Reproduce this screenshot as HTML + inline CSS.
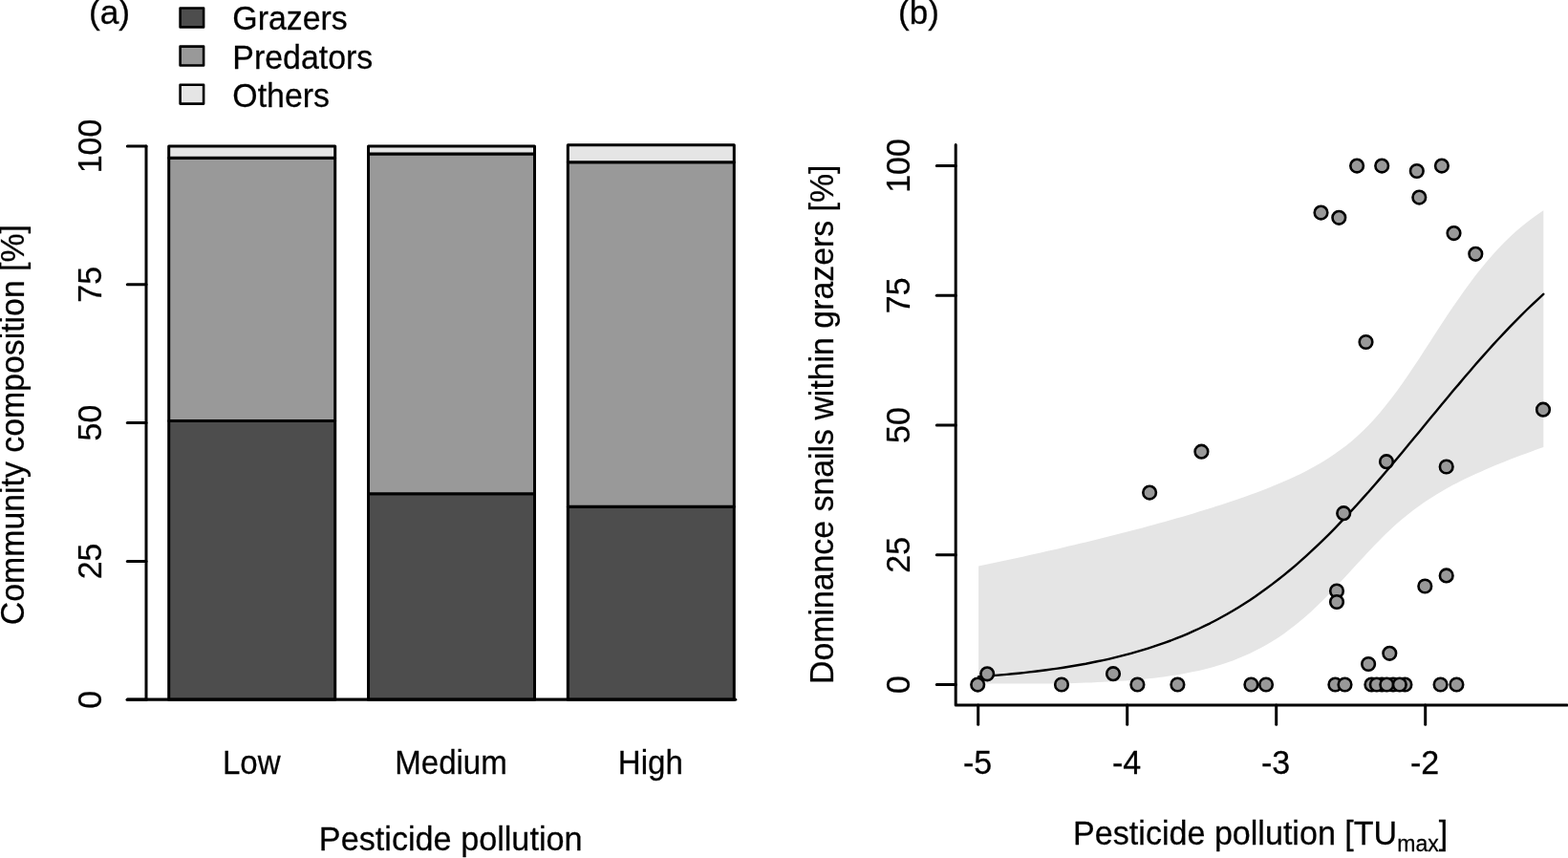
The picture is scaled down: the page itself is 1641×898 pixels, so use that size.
<!DOCTYPE html>
<html lang="en">
<head>
<meta charset="utf-8">
<title>Community composition and snail dominance vs pesticide pollution</title>
<style>
html, body { margin: 0; padding: 0; background: #ffffff; }
body { width: 1641px; height: 898px; overflow: hidden; }
svg { display: block; }
.t { font-family: "Liberation Sans", Arial, Helvetica, sans-serif; font-size: 34.0px; fill: #000; stroke: #000; stroke-width: 0.25px; }
</style>
</head>
<body>
<svg width="1641" height="898" viewBox="0 0 1641 898">
<rect x="0" y="0" width="1641" height="898" fill="#ffffff"/>
<g id="panel-a">
<rect x="176.70" y="440.57" width="174.00" height="291.63" fill="#4d4d4d" stroke="#000" stroke-width="3.0" stroke-linejoin="round"/>
<rect x="176.70" y="165.16" width="174.00" height="275.41" fill="#999999" stroke="#000" stroke-width="3.0" stroke-linejoin="round"/>
<rect x="176.70" y="153.00" width="174.00" height="12.16" fill="#e5e5e5" stroke="#000" stroke-width="3.0" stroke-linejoin="round"/>
<rect x="385.50" y="516.74" width="174.00" height="215.46" fill="#4d4d4d" stroke="#000" stroke-width="3.0" stroke-linejoin="round"/>
<rect x="385.50" y="161.11" width="174.00" height="355.63" fill="#999999" stroke="#000" stroke-width="3.0" stroke-linejoin="round"/>
<rect x="385.50" y="153.00" width="174.00" height="8.11" fill="#e5e5e5" stroke="#000" stroke-width="3.0" stroke-linejoin="round"/>
<rect x="594.30" y="530.18" width="174.00" height="202.02" fill="#4d4d4d" stroke="#000" stroke-width="3.0" stroke-linejoin="round"/>
<rect x="594.30" y="169.80" width="174.00" height="360.38" fill="#999999" stroke="#000" stroke-width="3.0" stroke-linejoin="round"/>
<rect x="594.30" y="151.84" width="174.00" height="17.96" fill="#e5e5e5" stroke="#000" stroke-width="3.0" stroke-linejoin="round"/>
<line x1="133.3" y1="732.2" x2="769.60" y2="732.2" stroke="#000" stroke-width="3.3" stroke-linecap="round"/>
<line x1="153.0" y1="153.0" x2="153.0" y2="732.2" stroke="#000" stroke-width="3.0" stroke-linecap="round"/>
<line x1="133.3" y1="732.20" x2="153.0" y2="732.20" stroke="#000" stroke-width="3.0" stroke-linecap="round"/>
<text id="a-y0" class="t" text-anchor="middle" transform="translate(105.80,732.20) rotate(-90) scale(1.0000,1.0200)">0</text>
<line x1="133.3" y1="587.40" x2="153.0" y2="587.40" stroke="#000" stroke-width="3.0" stroke-linecap="round"/>
<text id="a-y25" class="t" text-anchor="middle" transform="translate(105.80,587.40) rotate(-90) scale(1.0000,1.0200)">25</text>
<line x1="133.3" y1="442.60" x2="153.0" y2="442.60" stroke="#000" stroke-width="3.0" stroke-linecap="round"/>
<text id="a-y50" class="t" text-anchor="middle" transform="translate(105.80,442.60) rotate(-90) scale(1.0000,1.0200)">50</text>
<line x1="133.3" y1="297.80" x2="153.0" y2="297.80" stroke="#000" stroke-width="3.0" stroke-linecap="round"/>
<text id="a-y75" class="t" text-anchor="middle" transform="translate(105.80,297.80) rotate(-90) scale(1.0000,1.0200)">75</text>
<line x1="133.3" y1="153.00" x2="153.0" y2="153.00" stroke="#000" stroke-width="3.0" stroke-linecap="round"/>
<text id="a-y100" class="t" text-anchor="middle" transform="translate(105.80,153.00) rotate(-90) scale(1.0000,1.0200)">100</text>
<text id="a-ytitle" class="t" text-anchor="middle" transform="translate(25.20,444.60) rotate(-90) scale(0.9950,1.0300)">Community composition [%]</text>
<text id="a-x0" class="t" text-anchor="middle" transform="translate(263.20,810.30) scale(0.9720,1.0150)">Low</text>
<text id="a-x1" class="t" text-anchor="middle" transform="translate(472.00,810.30) scale(0.9720,1.0150)">Medium</text>
<text id="a-x2" class="t" text-anchor="middle" transform="translate(680.80,810.30) scale(0.9720,1.0150)">High</text>
<text id="a-xtitle" class="t" text-anchor="middle" transform="translate(471.70,890.40) scale(1.0060,1.0300)">Pesticide pollution</text>
<text id="a-label" class="t" text-anchor="start" transform="translate(92.90,24.80) scale(1.0400,1.0200)">(a)</text>
<rect x="188.6" y="8.50" width="24.5" height="19.9" fill="#4d4d4d" stroke="#000" stroke-width="2.6" stroke-linejoin="round"/>
<text id="a-leg0" class="t" text-anchor="start" transform="translate(243.30,30.60) scale(0.9970,1.0400)">Grazers</text>
<rect x="188.6" y="48.60" width="24.5" height="19.9" fill="#999999" stroke="#000" stroke-width="2.6" stroke-linejoin="round"/>
<text id="a-leg1" class="t" text-anchor="start" transform="translate(243.30,71.50) scale(0.9970,1.0400)">Predators</text>
<rect x="188.6" y="88.70" width="24.5" height="19.9" fill="#e5e5e5" stroke="#000" stroke-width="2.6" stroke-linejoin="round"/>
<text id="a-leg2" class="t" text-anchor="start" transform="translate(243.30,111.70) scale(0.9970,1.0400)">Others</text>
</g>
<g id="panel-b">
<polygon fill="#e5e5e5" points="1024.1,592.5 1030.0,591.2 1035.9,590.0 1041.8,588.8 1047.7,587.5 1053.7,586.3 1059.6,585.0 1065.5,583.7 1071.4,582.4 1077.3,581.1 1083.2,579.8 1089.1,578.5 1095.0,577.1 1101.0,575.8 1106.9,574.4 1112.8,573.0 1118.7,571.6 1124.6,570.2 1130.5,568.8 1136.4,567.4 1142.3,566.0 1148.3,564.5 1154.2,563.1 1160.1,561.6 1166.0,560.1 1171.9,558.6 1177.8,557.1 1183.7,555.5 1189.6,554.0 1195.6,552.4 1201.5,550.8 1207.4,549.2 1213.3,547.6 1219.2,546.0 1225.1,544.3 1231.0,542.6 1236.9,540.9 1242.9,539.2 1248.8,537.4 1254.7,535.6 1260.6,533.8 1266.5,532.0 1272.4,530.1 1278.3,528.2 1284.2,526.3 1290.2,524.3 1296.1,522.3 1302.0,520.2 1307.9,518.1 1313.8,515.9 1319.7,513.7 1325.6,511.4 1331.5,509.0 1337.5,506.6 1343.4,504.1 1349.3,501.4 1355.2,498.7 1361.1,495.9 1367.0,492.9 1372.9,489.7 1378.8,486.4 1384.8,483.0 1390.7,479.3 1396.6,475.3 1402.5,471.1 1408.4,466.7 1414.3,461.9 1420.2,456.7 1426.1,451.2 1432.1,445.3 1438.0,439.0 1443.9,432.3 1449.8,425.1 1455.7,417.6 1461.6,409.7 1467.5,401.4 1473.4,392.9 1479.4,384.1 1485.3,375.2 1491.2,366.1 1497.1,357.0 1503.0,347.8 1508.9,338.8 1514.8,329.8 1520.7,321.0 1526.7,312.4 1532.6,304.0 1538.5,295.9 1544.4,288.1 1550.3,280.7 1556.2,273.5 1562.1,266.7 1568.0,260.2 1574.0,254.1 1579.9,248.3 1585.8,242.8 1591.7,237.7 1597.6,232.9 1603.5,228.4 1609.4,224.2 1615.3,220.3 1615.3,467.9 1609.4,470.0 1603.5,472.2 1597.6,474.4 1591.7,476.6 1585.8,478.8 1579.9,481.1 1574.0,483.4 1568.0,485.8 1562.1,488.3 1556.2,490.8 1550.3,493.4 1544.4,496.0 1538.5,498.8 1532.6,501.6 1526.7,504.6 1520.7,507.6 1514.8,510.8 1508.9,514.2 1503.0,517.7 1497.1,521.4 1491.2,525.3 1485.3,529.4 1479.4,533.8 1473.4,538.4 1467.5,543.2 1461.6,548.3 1455.7,553.7 1449.8,559.3 1443.9,565.2 1438.0,571.3 1432.1,577.5 1426.1,583.9 1420.2,590.3 1414.3,596.8 1408.4,603.2 1402.5,609.6 1396.6,615.9 1390.7,622.1 1384.8,628.0 1378.8,633.8 1372.9,639.4 1367.0,644.7 1361.1,649.7 1355.2,654.5 1349.3,659.1 1343.4,663.4 1337.5,667.4 1331.5,671.2 1325.6,674.7 1319.7,678.0 1313.8,681.1 1307.9,684.0 1302.0,686.6 1296.1,689.1 1290.2,691.4 1284.2,693.5 1278.3,695.5 1272.4,697.3 1266.5,698.9 1260.6,700.5 1254.7,701.9 1248.8,703.1 1242.9,704.3 1236.9,705.4 1231.0,706.4 1225.1,707.3 1219.2,708.2 1213.3,709.0 1207.4,709.7 1201.5,710.3 1195.6,710.9 1189.6,711.4 1183.7,711.9 1177.8,712.4 1171.9,712.8 1166.0,713.2 1160.1,713.5 1154.2,713.8 1148.3,714.1 1142.3,714.4 1136.4,714.6 1130.5,714.8 1124.6,715.0 1118.7,715.2 1112.8,715.4 1106.9,715.4 1101.0,715.4 1095.0,715.4 1089.1,715.4 1083.2,715.4 1077.3,715.4 1071.4,715.4 1065.5,715.4 1059.6,715.4 1053.7,715.4 1047.7,715.4 1041.8,715.4 1035.9,715.4 1030.0,715.4 1024.1,715.4"/>
<polyline fill="none" stroke="#000" stroke-width="2.4" stroke-linejoin="round" stroke-linecap="round" points="1024.1,708.3 1030.0,707.9 1035.9,707.4 1041.8,706.9 1047.7,706.4 1053.7,705.9 1059.6,705.3 1065.5,704.7 1071.4,704.1 1077.3,703.4 1083.2,702.7 1089.1,702.0 1095.0,701.2 1101.0,700.4 1106.9,699.6 1112.8,698.7 1118.7,697.8 1124.6,696.8 1130.5,695.7 1136.4,694.7 1142.3,693.5 1148.3,692.3 1154.2,691.1 1160.1,689.8 1166.0,688.4 1171.9,686.9 1177.8,685.4 1183.7,683.8 1189.6,682.2 1195.6,680.4 1201.5,678.6 1207.4,676.7 1213.3,674.7 1219.2,672.6 1225.1,670.5 1231.0,668.2 1236.9,665.8 1242.9,663.3 1248.8,660.7 1254.7,658.0 1260.6,655.2 1266.5,652.3 1272.4,649.2 1278.3,646.0 1284.2,642.7 1290.2,639.3 1296.1,635.7 1302.0,632.0 1307.9,628.2 1313.8,624.2 1319.7,620.0 1325.6,615.8 1331.5,611.4 1337.5,606.8 1343.4,602.1 1349.3,597.3 1355.2,592.3 1361.1,587.1 1367.0,581.8 1372.9,576.4 1378.8,570.8 1384.8,565.1 1390.7,559.3 1396.6,553.3 1402.5,547.2 1408.4,541.0 1414.3,534.6 1420.2,528.2 1426.1,521.6 1432.1,515.0 1438.0,508.2 1443.9,501.4 1449.8,494.5 1455.7,487.5 1461.6,480.5 1467.5,473.4 1473.4,466.3 1479.4,459.1 1485.3,452.0 1491.2,444.8 1497.1,437.6 1503.0,430.4 1508.9,423.3 1514.8,416.2 1520.7,409.1 1526.7,402.1 1532.6,395.1 1538.5,388.2 1544.4,381.3 1550.3,374.6 1556.2,368.0 1562.1,361.4 1568.0,355.0 1574.0,348.6 1579.9,342.4 1585.8,336.3 1591.7,330.3 1597.6,324.5 1603.5,318.8 1609.4,313.3 1615.3,307.8"/>
<circle cx="1023.2" cy="716.6" r="6.8" fill="#999999" stroke="#000" stroke-width="2.6"/>
<circle cx="1033.2" cy="705.3" r="6.8" fill="#999999" stroke="#000" stroke-width="2.6"/>
<circle cx="1111.0" cy="716.5" r="6.8" fill="#999999" stroke="#000" stroke-width="2.6"/>
<circle cx="1165.0" cy="705.2" r="6.8" fill="#999999" stroke="#000" stroke-width="2.6"/>
<circle cx="1190.4" cy="716.5" r="6.8" fill="#999999" stroke="#000" stroke-width="2.6"/>
<circle cx="1232.4" cy="716.5" r="6.8" fill="#999999" stroke="#000" stroke-width="2.6"/>
<circle cx="1309.4" cy="716.5" r="6.8" fill="#999999" stroke="#000" stroke-width="2.6"/>
<circle cx="1325.0" cy="716.5" r="6.8" fill="#999999" stroke="#000" stroke-width="2.6"/>
<circle cx="1397.4" cy="716.5" r="6.8" fill="#999999" stroke="#000" stroke-width="2.6"/>
<circle cx="1407.5" cy="716.5" r="6.8" fill="#999999" stroke="#000" stroke-width="2.6"/>
<circle cx="1446.2" cy="716.5" r="6.8" fill="#999999" stroke="#000" stroke-width="2.6"/>
<circle cx="1458.0" cy="716.5" r="6.8" fill="#999999" stroke="#000" stroke-width="2.6"/>
<circle cx="1435.4" cy="716.5" r="6.8" fill="#999999" stroke="#000" stroke-width="2.6"/>
<circle cx="1440.8" cy="716.5" r="6.8" fill="#999999" stroke="#000" stroke-width="2.6"/>
<circle cx="1470.4" cy="716.5" r="6.8" fill="#999999" stroke="#000" stroke-width="2.6"/>
<circle cx="1451.3" cy="716.5" r="6.8" fill="#999999" stroke="#000" stroke-width="2.6"/>
<circle cx="1464.8" cy="716.5" r="6.8" fill="#999999" stroke="#000" stroke-width="2.6"/>
<circle cx="1507.6" cy="716.5" r="6.8" fill="#999999" stroke="#000" stroke-width="2.6"/>
<circle cx="1524.4" cy="716.5" r="6.8" fill="#999999" stroke="#000" stroke-width="2.6"/>
<circle cx="1432.1" cy="695.0" r="6.8" fill="#999999" stroke="#000" stroke-width="2.6"/>
<circle cx="1454.3" cy="683.8" r="6.8" fill="#999999" stroke="#000" stroke-width="2.6"/>
<circle cx="1399.0" cy="618.5" r="6.8" fill="#999999" stroke="#000" stroke-width="2.6"/>
<circle cx="1399.0" cy="630.0" r="6.8" fill="#999999" stroke="#000" stroke-width="2.6"/>
<circle cx="1491.3" cy="613.5" r="6.8" fill="#999999" stroke="#000" stroke-width="2.6"/>
<circle cx="1513.7" cy="602.4" r="6.8" fill="#999999" stroke="#000" stroke-width="2.6"/>
<circle cx="1406.2" cy="537.2" r="6.8" fill="#999999" stroke="#000" stroke-width="2.6"/>
<circle cx="1203.1" cy="515.6" r="6.8" fill="#999999" stroke="#000" stroke-width="2.6"/>
<circle cx="1257.4" cy="472.7" r="6.8" fill="#999999" stroke="#000" stroke-width="2.6"/>
<circle cx="1451.0" cy="483.2" r="6.8" fill="#999999" stroke="#000" stroke-width="2.6"/>
<circle cx="1513.7" cy="488.5" r="6.8" fill="#999999" stroke="#000" stroke-width="2.6"/>
<circle cx="1429.5" cy="358.0" r="6.8" fill="#999999" stroke="#000" stroke-width="2.6"/>
<circle cx="1615.0" cy="428.7" r="6.8" fill="#999999" stroke="#000" stroke-width="2.6"/>
<circle cx="1420.1" cy="173.6" r="6.8" fill="#999999" stroke="#000" stroke-width="2.6"/>
<circle cx="1446.2" cy="173.6" r="6.8" fill="#999999" stroke="#000" stroke-width="2.6"/>
<circle cx="1482.8" cy="179.0" r="6.8" fill="#999999" stroke="#000" stroke-width="2.6"/>
<circle cx="1508.9" cy="173.6" r="6.8" fill="#999999" stroke="#000" stroke-width="2.6"/>
<circle cx="1485.3" cy="206.6" r="6.8" fill="#999999" stroke="#000" stroke-width="2.6"/>
<circle cx="1382.5" cy="222.6" r="6.8" fill="#999999" stroke="#000" stroke-width="2.6"/>
<circle cx="1401.3" cy="227.8" r="6.8" fill="#999999" stroke="#000" stroke-width="2.6"/>
<circle cx="1521.5" cy="244.1" r="6.8" fill="#999999" stroke="#000" stroke-width="2.6"/>
<circle cx="1544.3" cy="265.8" r="6.8" fill="#999999" stroke="#000" stroke-width="2.6"/>
<polyline fill="none" stroke="#000" stroke-width="3.0" stroke-linecap="round" stroke-linejoin="round" points="1000.2,151.5 1000.2,738.1 1640.0,738.1"/>
<line x1="980.3" y1="716.50" x2="1000.2" y2="716.50" stroke="#000" stroke-width="3.0" stroke-linecap="round"/>
<text id="b-y0" class="t" text-anchor="middle" transform="translate(952.20,716.50) rotate(-90) scale(1.0000,1.0200)">0</text>
<line x1="980.3" y1="580.75" x2="1000.2" y2="580.75" stroke="#000" stroke-width="3.0" stroke-linecap="round"/>
<text id="b-y25" class="t" text-anchor="middle" transform="translate(952.20,580.75) rotate(-90) scale(1.0000,1.0200)">25</text>
<line x1="980.3" y1="445.00" x2="1000.2" y2="445.00" stroke="#000" stroke-width="3.0" stroke-linecap="round"/>
<text id="b-y50" class="t" text-anchor="middle" transform="translate(952.20,445.00) rotate(-90) scale(1.0000,1.0200)">50</text>
<line x1="980.3" y1="309.25" x2="1000.2" y2="309.25" stroke="#000" stroke-width="3.0" stroke-linecap="round"/>
<text id="b-y75" class="t" text-anchor="middle" transform="translate(952.20,309.25) rotate(-90) scale(1.0000,1.0200)">75</text>
<line x1="980.3" y1="173.50" x2="1000.2" y2="173.50" stroke="#000" stroke-width="3.0" stroke-linecap="round"/>
<text id="b-y100" class="t" text-anchor="middle" transform="translate(952.20,173.50) rotate(-90) scale(1.0000,1.0200)">100</text>
<line x1="1023.70" y1="738.1" x2="1023.70" y2="758.2" stroke="#000" stroke-width="3.0" stroke-linecap="round"/>
<text id="b-x5" class="t" text-anchor="middle" transform="translate(1023.00,810.30) scale(1.0000,1.0200)">-5</text>
<line x1="1179.70" y1="738.1" x2="1179.70" y2="758.2" stroke="#000" stroke-width="3.0" stroke-linecap="round"/>
<text id="b-x4" class="t" text-anchor="middle" transform="translate(1179.00,810.30) scale(1.0000,1.0200)">-4</text>
<line x1="1335.70" y1="738.1" x2="1335.70" y2="758.2" stroke="#000" stroke-width="3.0" stroke-linecap="round"/>
<text id="b-x3" class="t" text-anchor="middle" transform="translate(1335.00,810.30) scale(1.0000,1.0200)">-3</text>
<line x1="1491.70" y1="738.1" x2="1491.70" y2="758.2" stroke="#000" stroke-width="3.0" stroke-linecap="round"/>
<text id="b-x2" class="t" text-anchor="middle" transform="translate(1491.00,810.30) scale(1.0000,1.0200)">-2</text>
<text id="b-ytitle" class="t" text-anchor="middle" transform="translate(871.60,444.30) rotate(-90) scale(0.9960,1.0300)">Dominance snails within grazers [%]</text>
<text id="b-xtitle" class="t" text-anchor="middle" transform="translate(1319.20,883.80) scale(1.0030,1.0400)">Pesticide pollution [TU<tspan style="font-size:23.0px" dy="6.5">max</tspan><tspan dy="-6.5">]</tspan></text>
<text id="b-label" class="t" text-anchor="start" transform="translate(940.00,25.20) scale(1.0300,1.0300)">(b)</text>
</g>
</svg>
</body>
</html>
